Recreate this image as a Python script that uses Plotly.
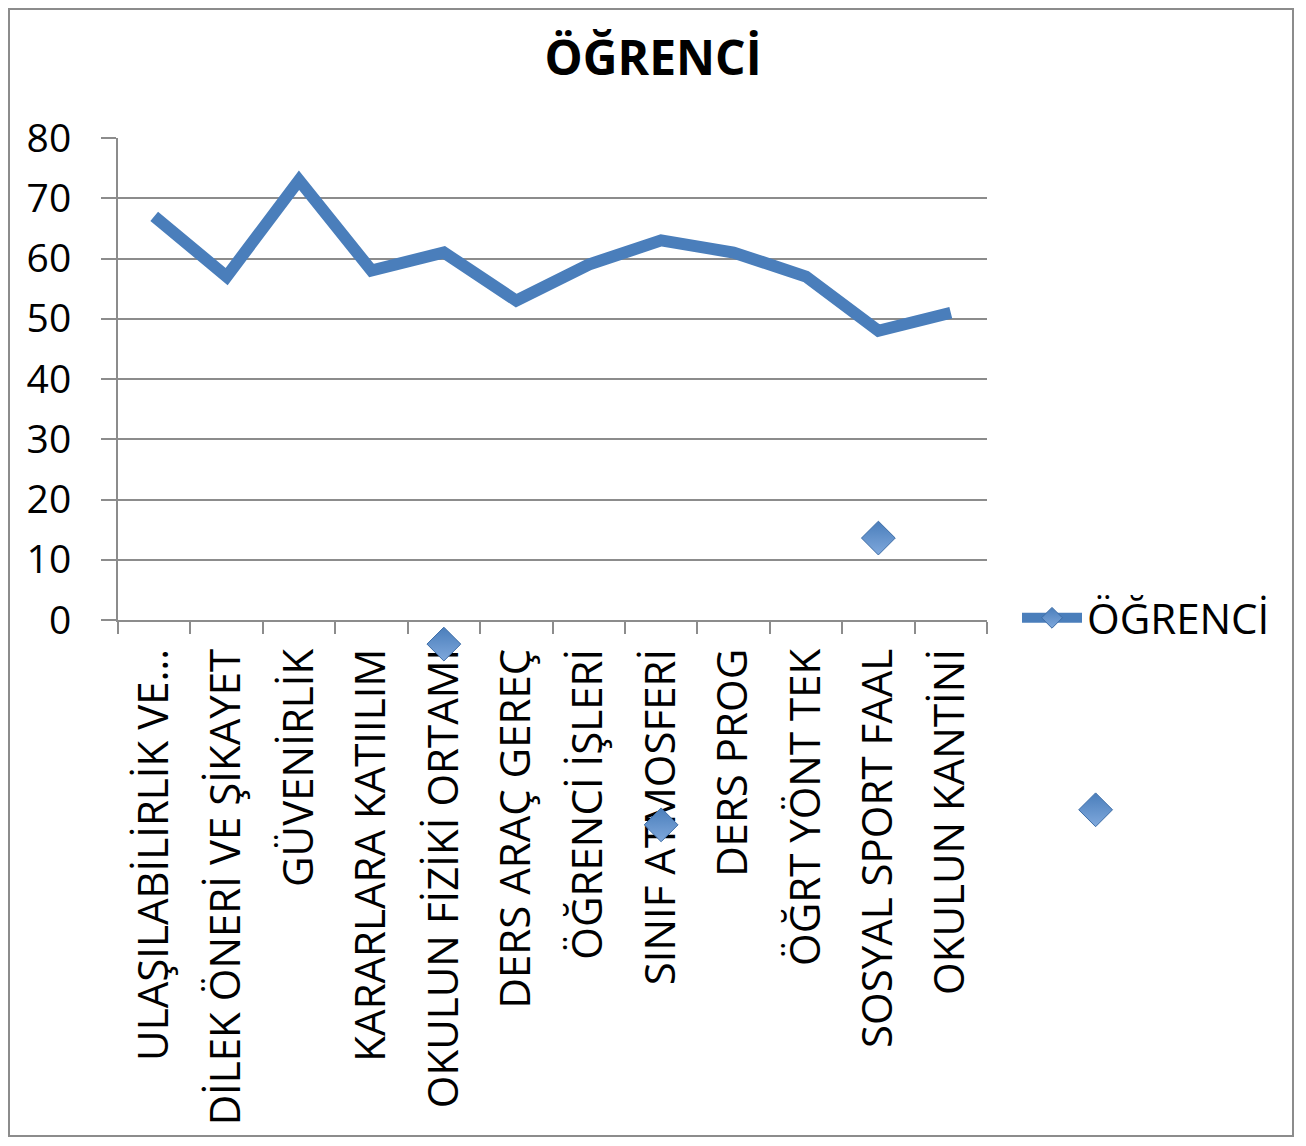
import plotly.graph_objects as go

# Chart data
CATEGORIES = [
    "ULAŞILABİLİRLİK VE…",
    "DİLEK ÖNERİ VE ŞİKAYET",
    "GÜVENİRLİK",
    "KARARLARA KATIILIM",
    "OKULUN FİZİKİ ORTAMI",
    "DERS ARAÇ GEREÇ",
    "ÖĞRENCİ İŞLERİ",
    "SINIF ATMOSFERİ",
    "DERS PROG",
    "ÖĞRT YÖNT TEK",
    "SOSYAL SPORT FAAL",
    "OKULUN KANTİNİ",
]
OGRENCI = [67, 57, 73, 58, 61, 53, 59, 63, 61, 57, 48, 51]

# stray diamond markers seen in the source image (category index, value)
STRAY_X = [4, 7, 10, 13]
STRAY_Y = [-4, -34, 13.6, -31.5]

Y_TICKS = [0, 10, 20, 30, 40, 50, 60, 70, 80]

BLUE = "#4A7EBB"
GRID = "#8C8C8C"
FONT = "Open Sans"

# canvas (page has an 8px body margin)
W, H = 1290, 1130
PX0, PX1 = 110, 979      # plot area left/right in px
PY0, PY1 = 130, 612      # plot area top/bottom in px

n = len(CATEGORIES)
x_pos = list(range(n))
x_unit = (PX1 - PX0) / n          # px per category
y_unit = (PY1 - PY0) / 80         # px per value unit

# full-canvas axes with the same scale, so stray markers can sit outside the plot area
x2_range = [-0.5 - PX0 / x_unit, -0.5 + (W - PX0) / x_unit]
y2_range = [-(H - PY1) / y_unit, PY1 / y_unit]

diamond = dict(symbol="diamond", color=BLUE,
               line=dict(color="#3C6CA6", width=1),
               gradient=dict(type="vertical", color="#7FA8DC"))

fig = go.Figure()

fig.add_trace(go.Scatter(
    x=x_pos, y=OGRENCI,
    mode="lines",
    line=dict(color=BLUE, width=12),
    showlegend=False,
    hoverinfo="y",
))

fig.add_trace(go.Scatter(
    x=STRAY_X, y=STRAY_Y,
    xaxis="x2", yaxis="y2",
    mode="markers",
    marker=dict(size=26, **diamond),
    showlegend=False,
    hoverinfo="skip",
))

# legend-only entry (line with diamond)
fig.add_trace(go.Scatter(
    x=[None], y=[None],
    mode="lines+markers",
    name="ÖĞRENCİ",
    line=dict(color=BLUE, width=10),
    marker=dict(size=16, **diamond),
))

fig.update_layout(
    width=W, height=H,
    margin=dict(l=0, r=0, t=0, b=0, pad=0, autoexpand=False),
    paper_bgcolor="white",
    plot_bgcolor="rgba(0,0,0,0)",
    font=dict(family=FONT, color="black"),
    title=dict(
        text="<b>ÖĞRENCİ</b>",
        x=0.5, xanchor="center",
        y=1 - 50 / H, yanchor="middle",
        font=dict(family=FONT, size=48, color="black"),
    ),
    xaxis=dict(
        domain=[PX0 / W, PX1 / W],
        anchor="y",
        range=[-0.5, n - 0.5],
        tickmode="array",
        tickvals=x_pos,
        ticktext=CATEGORIES,
        tickangle=-90,
        ticks="",
        ticklabelstandoff=10,
        tickfont=dict(size=42, family=FONT),
        showgrid=False,
        zeroline=False,
        showline=True,
        linecolor=GRID,
        linewidth=2,
        minor=dict(ticks="outside", tick0=0.5, dtick=1, ticklen=12,
                   tickcolor=GRID, tickwidth=2, showgrid=False),
        fixedrange=True,
    ),
    yaxis=dict(
        domain=[1 - PY1 / H, 1 - PY0 / H],
        anchor="x",
        range=[0, 80],
        tickmode="array",
        tickvals=Y_TICKS,
        ticks="outside",
        ticklen=15,
        tickcolor=GRID,
        tickwidth=2,
        ticklabelstandoff=22,
        tickfont=dict(size=39, family=FONT),
        showgrid=True,
        gridcolor=GRID,
        gridwidth=2,
        zeroline=False,
        showline=True,
        linecolor=GRID,
        linewidth=2,
        fixedrange=True,
    ),
    xaxis2=dict(domain=[0, 1], anchor="y2", range=x2_range, visible=False,
                fixedrange=True),
    yaxis2=dict(domain=[0, 1], anchor="x2", range=y2_range, visible=False,
                fixedrange=True),
    legend=dict(
        x=1009 / W, xanchor="left",
        y=1 - 610 / H, yanchor="middle",
        font=dict(size=42, family=FONT),
        bgcolor="rgba(0,0,0,0)",
        itemwidth=60,
    ),
    shapes=[dict(
        type="rect", xref="paper", yref="paper",
        x0=1 / W, x1=1285 / W,
        y0=1 - 1128 / H, y1=1 - 1 / H,
        line=dict(color="#8C8C8C", width=2),
        fillcolor="rgba(0,0,0,0)",
        layer="below",
    )],
)

fig.write_html("out.html")
